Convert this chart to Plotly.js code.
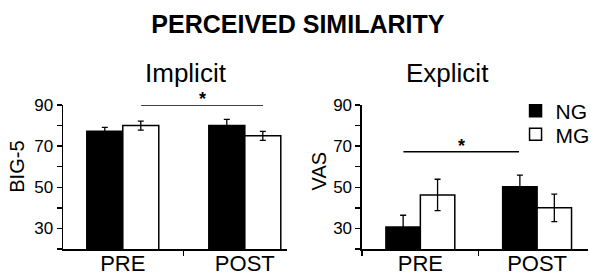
<!DOCTYPE html>
<html>
<head>
<meta charset="utf-8">
<script src="https://cdn.plot.ly/plotly-3.0.1.min.js"></script>
<style>html,body{margin:0;padding:0;background:#fff}#chart{width:591px;height:277px}</style>
</head>
<body>
<div id="chart"></div>
<script>
const categories = ['PRE', 'POST'];
const groups = ['NG', 'MG'];
const implicitNG = [77.3, 80.0];
const implicitNGerr = [1.8, 3.0];
const implicitMG = [80.0, 75.0];
const implicitMGerr = [2.2, 2.2];
const explicitNG = [30.7, 50.3];
const explicitNGerr = [5.7, 5.6];
const explicitMG = [46.3, 40.0];
const explicitMGerr = [7.6, 6.7];
const yTickVals = [30, 50, 70, 90];
const panelTitles = ['Implicit', 'Explicit'];
const yTitles = ['BIG-5', 'VAS'];
const sig = [
  {x0: 0.15, x1: 1.15, y: 90, panel: 1},
  {x0: -0.145, x1: 0.845, y: 67.3, panel: 2}
];

const font = 'Liberation Sans, Arial, sans-serif';
const black = '#000';

function barTrace(name, y, err, fill, xa, ya, show, legend) {
  return {
    type: 'bar', name: name, x: categories, y: y,
    xaxis: xa, yaxis: ya, showlegend: show, legend: legend,
    marker: {color: fill, line: {color: black, width: 1.5}},
    error_y: {type: 'data', array: err, visible: true, color: black, thickness: 1.3, width: 3},
    hoverinfo: 'skip'
  };
}

const data = [
  barTrace(groups[0], implicitNG, implicitNGerr, black, 'x', 'y', true, 'legend'),
  barTrace(groups[1], implicitMG, implicitMGerr, '#fff', 'x', 'y', true, 'legend2'),
  barTrace(groups[0], explicitNG, explicitNGerr, black, 'x2', 'y2', false, 'legend'),
  barTrace(groups[1], explicitMG, explicitMGerr, '#fff', 'x2', 'y2', false, 'legend2')
];

function xAxis(domain, range, anchor) {
  return {
    domain: domain, anchor: anchor, type: 'category', range: range,
    showline: true, linecolor: black, linewidth: 1.5, showgrid: false, zeroline: false,
    ticks: 'outside', tickson: 'boundaries', ticklen: 5, tickcolor: black, tickwidth: 1.3,
    ticklabelstandoff: -6,
    tickfont: {family: font, size: 22, color: black}, fixedrange: true
  };
}
function yAxis(anchor) {
  return {
    anchor: anchor, range: [20, 90], tickvals: yTickVals,
    showline: true, linecolor: black, linewidth: 1.5, showgrid: false, zeroline: false,
    ticks: 'outside', ticklen: 5, tickcolor: black, tickwidth: 1.3,
    minor: {dtick: 10, tick0: 20, ticks: 'outside', ticklen: 5, tickcolor: black, tickwidth: 1.3, showgrid: false},
    tickfont: {family: font, size: 17, color: black},
    automargin: false, fixedrange: true
  };
}

const shapes = sig.map(s => ({
  type: 'line', xref: s.panel === 1 ? 'x' : 'x2', yref: s.panel === 1 ? 'y' : 'y2',
  x0: s.x0, x1: s.x1, y0: s.y, y1: s.y, line: {color: black, width: 1.5}
}));
const annotations = sig.map(s => ({
  xref: s.panel === 1 ? 'x' : 'x2', yref: s.panel === 1 ? 'y' : 'y2',
  x: (s.x0 + s.x1) / 2, y: s.y, text: '<b>*</b>', showarrow: false,
  yanchor: 'bottom', yshift: -6, font: {family: font, size: 18, color: black}
}));
annotations.push(
  {xref: 'paper', yref: 'paper', x: 0.234, y: 1.22, text: panelTitles[0], showarrow: false,
   xanchor: 'center', yanchor: 'middle', font: {family: font, size: 26, color: black}},
  {xref: 'paper', yref: 'paper', x: 0.732, y: 1.22, text: panelTitles[1], showarrow: false,
   xanchor: 'center', yanchor: 'middle', font: {family: font, size: 26, color: black}},
  {xref: 'paper', yref: 'paper', x: -0.088, y: 0.57, text: yTitles[0], textangle: -90, showarrow: false,
   xanchor: 'center', yanchor: 'middle', font: {family: font, size: 20, color: black}},
  {xref: 'paper', yref: 'paper', x: 0.488, y: 0.54, text: yTitles[1], textangle: -90, showarrow: false,
   xanchor: 'center', yanchor: 'middle', font: {family: font, size: 20, color: black}}
);

const legendStyle = (y) => ({
  x: 0.862, xanchor: 'left', y: y, yanchor: 'top', bgcolor: 'rgba(0,0,0,0)',
  font: {family: font, size: 21, color: black}, itemwidth: 30
});

const layout = {
  width: 591, height: 277,
  margin: {l: 63, r: 3, t: 105, b: 28, autoexpand: false},
  paper_bgcolor: '#fff', plot_bgcolor: 'rgba(0,0,0,0)',
  title: {text: '<b>PERCEIVED SIMILARITY</b>', x: 0.504, xanchor: 'center', xref: 'container',
          y: 0.913, yanchor: 'middle', yref: 'container',
          font: {family: font, size: 25, color: black}},
  barmode: 'group', bargap: 0.41, bargroupgap: 0,
  xaxis: xAxis([0, 0.4267], [-0.49, 1.346], 'y'),
  yaxis: yAxis('x'),
  xaxis2: xAxis([0.5695, 1], [-0.5, 1.436], 'y2'),
  yaxis2: yAxis('x2'),
  showlegend: true,
  legend: legendStyle(1.10),
  legend2: legendStyle(0.936),
  shapes: shapes, annotations: annotations
};

Plotly.newPlot('chart', data, layout, {displayModeBar: false, staticPlot: true});
</script>
</body>
</html>
